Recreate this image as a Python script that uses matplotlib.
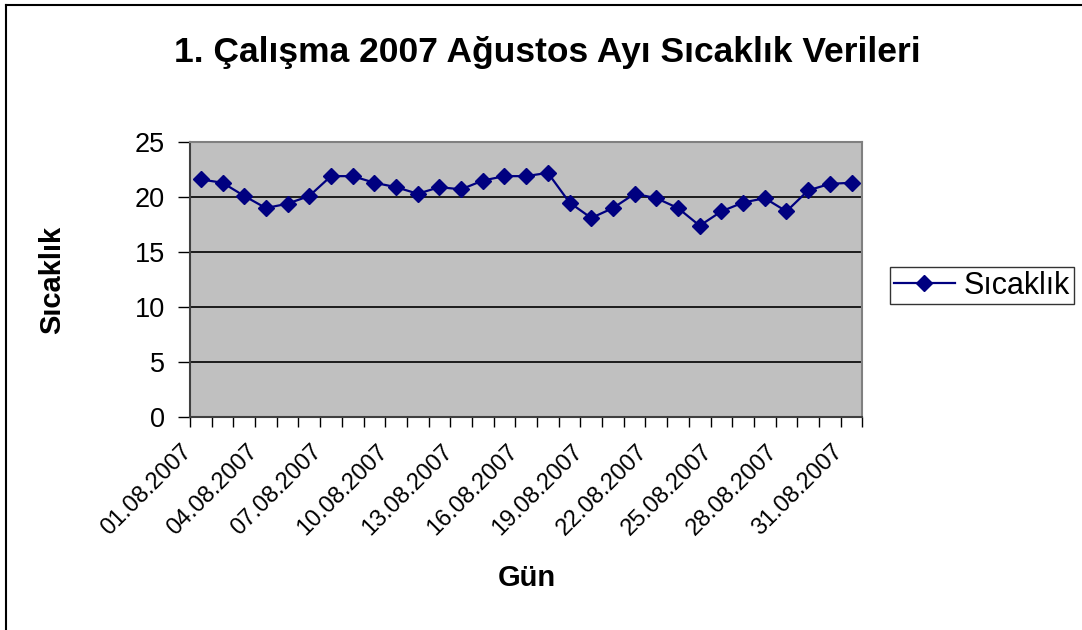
import numpy as np
import matplotlib
matplotlib.use('Agg')
import matplotlib.pyplot as plt
import matplotlib.transforms as mtransforms
from matplotlib.lines import Line2D

plt.rcParams['font.family'] = ['Liberation Sans', 'DejaVu Sans']

# data
days = ['%02d.08.2007' % d for d in range(1, 32)]
temps = [21.6, 21.3, 20.1, 19.0, 19.4, 20.1, 21.9, 21.9, 21.3, 20.9,
         20.3, 20.9, 20.7, 21.5, 21.9, 21.9, 22.2, 19.5, 18.1, 19.0,
         20.3, 19.9, 19.0, 17.4, 18.7, 19.5, 19.9, 18.7, 20.6, 21.2, 21.3]
yticks = [0, 5, 10, 15, 20, 25]

fig = plt.figure(figsize=(10.82, 6.30), dpi=100)
ax = fig.add_axes([0.1756, 0.3376, 0.797 - 0.1756, 0.7746 - 0.3376])
ax.set_facecolor('#C0C0C0')

x = np.arange(len(temps))
ax.plot(x, temps, color='#000080', linewidth=1.6, marker='D', markersize=8.5,
        markerfacecolor='#000080', markeredgecolor='#000080', zorder=3)

ax.set_xlim(-0.5, len(temps) - 0.5)
ax.set_ylim(0, 25)

# horizontal gridlines
for v in yticks[1:-1]:
    ax.axhline(v, color='black', linewidth=1.2, zorder=1)

ax.set_yticks(yticks)
ax.set_yticklabels([str(v) for v in yticks], fontsize=19.5)
ax.tick_params(axis='y', direction='out', length=9, width=1, pad=9)

# category boundaries get the tick marks, every third day gets a label
ax.set_xticks(np.arange(-0.5, len(temps), 1), minor=True)
ax.set_xticks(x[::3])
ax.set_xticklabels(days[::3], rotation=45, ha='right', va='center',
                   rotation_mode='anchor', fontsize=17)
ax.tick_params(axis='x', which='major', length=0, pad=22)
ax.tick_params(axis='x', which='minor', direction='out', length=7, width=1)
# nudge the rotated labels a bit to the left, like the original
shift = mtransforms.ScaledTranslation(-12 / 100, 0, fig.dpi_scale_trans)
for lbl in ax.get_xticklabels():
    lbl.set_transform(lbl.get_transform() + shift)

for side in ['top', 'right']:
    ax.spines[side].set_color('#808080')
    ax.spines[side].set_linewidth(1.5)
for side in ['left', 'bottom']:
    ax.spines[side].set_color('#404040')
    ax.spines[side].set_linewidth(1.5)

fig.text(0.5055, 0.917, '1. Çalışma 2007 Ağustos Ayı Sıcaklık Verileri',
         ha='center', va='center', fontsize=25.5, fontweight='bold')
fig.text(0.048, 0.556, 'Sıcaklık', rotation=90, ha='center', va='center',
         fontsize=21, fontweight='bold')
fig.text(0.487, 0.083, 'Gün', ha='center', va='center',
         fontsize=21, fontweight='bold')

handle = Line2D([], [], color='#000080', linewidth=1.6, marker='D', markersize=8.5)
leg = fig.legend([handle], ['Sıcaklık'], loc='center',
                 bbox_to_anchor=(0.9076, 0.5468), fontsize=22,
                 fancybox=False, frameon=True, handlelength=2.0,
                 borderpad=0.12, handletextpad=0.3)
leg.get_frame().set_edgecolor('black')
leg.get_frame().set_linewidth(1)

# outer frame: only top and left edges are visible
fig.add_artist(Line2D([6 / 1082, 1], [1 - 5 / 630, 1 - 5 / 630],
                      transform=fig.transFigure, color='black', linewidth=1.5))
fig.add_artist(Line2D([6 / 1082, 6 / 1082], [0, 1 - 5 / 630],
                      transform=fig.transFigure, color='black', linewidth=1.5))

fig.savefig('out.png', dpi=100)
